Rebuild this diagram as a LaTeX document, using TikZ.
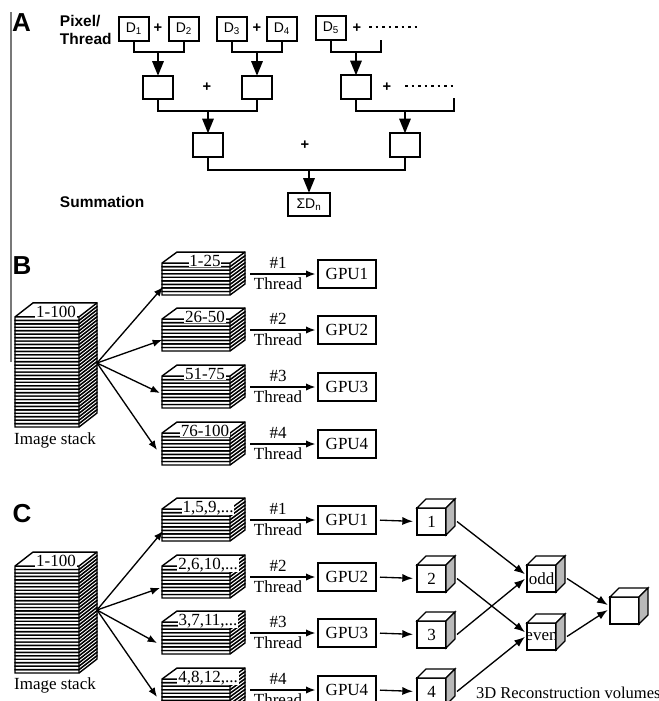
\documentclass[tikz,border=0pt]{standalone}
\usepackage{fontspec}
\setmainfont{Liberation Serif}
\newfontfamily\sansfam{Liberation Sans}
\usetikzlibrary{arrows.meta}

\definecolor{rulegray}{RGB}{120,120,120}
\definecolor{cubeside}{RGB}{185,185,185}

% A stack of sheets: #1 left x, #2 front right x, #3 bottom y, #4 sheets,
% #5 sheet thickness, #6 depth shift to the right, #7 depth rise
\newcommand\imgstack[7]{%
  \foreach \i in {1,...,#4}{%
    \pgfmathsetmacro\yb{#3-(\i-1)*#5}%
    \pgfmathsetmacro\yt{#3-\i*#5}%
    \pgfmathsetmacro\ybr{\yb-#7}%
    \pgfmathsetmacro\ytr{\yt-#7}%
    \pgfmathsetmacro\xr{#2+#6}%
    \pgfmathsetmacro\xl{#1+#6}%
    \filldraw[sheet] (#1,\yb) -- (#2,\yb) -- (\xr,\ybr) -- (\xr,\ytr) -- (\xl,\ytr) -- (#1,\yt) -- cycle;
    \draw[sheet,fill=none] (#1,\yt) -- (#2,\yt) -- (\xr,\ytr) (#2,\yt) -- (#2,\yb);
  }}

% top and side faces of a volume cube drawn round its front node
\newcommand\cubefaces[1]{%
  \draw[cubeline, fill=white] (#1.north west) -- ++(9,-9) -- ([shift={(9,-9)}]#1.north east) -- (#1.north east) -- cycle;
  \draw[cubeline, fill=cubeside] (#1.north east) -- ++(9,-9) -- ([shift={(9,-9)}]#1.south east) -- (#1.south east) -- cycle;}

\tikzset{
  every node/.style={inner sep=0pt, outer sep=0pt},
  panellbl/.style={font=\sansfam\bfseries\fontsize{19.5}{20}\selectfont},
  sanslbl/.style={font=\sansfam\bfseries\fontsize{11.6}{13.5}\selectfont, align=left},
  tree/.style={line width=1.5pt, line join=miter},
  treearrow/.style={line width=1.5pt, -{Triangle[length=11pt,width=8.5pt]}},
  abox/.style={draw, line width=1.5pt, minimum width=22.5pt, minimum height=17.5pt,
    font=\sansfam\fontsize{10.5}{12}\selectfont},
  sumbox/.style={abox, minimum width=31.5pt},
  plus/.style={font=\sansfam\bfseries\fontsize{11}{12}\selectfont},
  dotrow/.style={line width=1.9pt, dash pattern=on 1.9pt off 3pt},
  sheet/.style={line width=1.05pt, fill=white, draw=black, line join=miter},
  serif/.style={font=\fontsize{12.75}{14}\selectfont},
  stacklbl/.style={serif, anchor=base},
  toplbl/.style={stacklbl, fill=white, inner xsep=0.6pt, inner ysep=0.4pt},
  gpubox/.style={draw, line width=1.1pt, minimum width=43.5pt, minimum height=21pt, serif},
  fan/.style={line width=1pt, -{Latex[length=7pt,width=5.5pt]}},
  thread/.style={line width=1pt, -{Latex[length=7pt,width=5.5pt]}, shorten >=2pt},
  gpuarrow/.style={line width=1pt, -{Latex[length=8pt,width=6pt]}, shorten <=3pt, shorten >=3pt},
  volarrow/.style={line width=1pt, -{Latex[length=8pt,width=6pt]}, shorten >=2pt},
  cubeline/.style={line width=1pt, line join=miter},
  cube/.style={draw, fill=white, line width=1pt, minimum width=21.75pt, minimum height=20.25pt, serif},
}

\begin{document}
\begin{tikzpicture}[x=0.75pt,y=-0.75pt]
\useasboundingbox (0,0) rectangle (659,701);
\clip (0,0) rectangle (659,701);

% margin rule
\coordinate (ruleT) at (11,12);
\coordinate (ruleB) at (11,362);
\draw[rulegray, line width=0.9pt] (ruleT) -- (ruleB);

% panel letters
\node[panellbl] (letA) at (21.5,23) {A};
\node[panellbl] (letB) at (22,266) {B};
\node[panellbl] (letC) at (22,514) {C};

% ---------------- A: pairwise summation tree ----------------
\node[sanslbl, anchor=west] (pixlbl) at (60,30) {Pixel/\\Thread};
\node[sanslbl, anchor=west] (sumlbl) at (60,202) {Summation};

\node[abox] (d1) at (134,29) {D\textsubscript{1}};
\node[abox] (d2) at (184,29) {D\textsubscript{2}};
\node[abox] (d3) at (232,29) {D\textsubscript{3}};
\node[abox] (d4) at (282,29) {D\textsubscript{4}};
\node[abox] (d5) at (331,28) {D\textsubscript{5}};
\node[plus] (p12) at (158,28) {+};
\node[plus] (p34) at (257,28) {+};
\node[plus] (p5) at (357,28) {+};
\coordinate (dotsAa) at (369,27);
\coordinate (dotsAb) at (418,27);
\draw[dotrow] (dotsAa) -- (dotsAb);

\node[abox] (s1) at (158,87.5) {};
\node[abox] (s2) at (257,87.5) {};
\node[abox] (s3) at (356,87) {};
\node[plus] (ps12) at (207,87) {+};
\node[plus] (ps3) at (387,87) {+};
\coordinate (dotsBa) at (405,86);
\coordinate (dotsBb) at (454,86);
\draw[dotrow] (dotsBa) -- (dotsBb);

\node[abox] (t1) at (208,145) {};
\node[abox] (t2) at (405,145) {};
\node[plus] (pt) at (305,145) {+};

\node[sumbox] (sum) at (309,204.5) {ΣD\textsubscript{n}};

\coordinate (j1) at (0,52);
\coordinate (j2) at (0,111);
\coordinate (j3) at (0,170);
\coordinate (d5open) at (381,40);
\coordinate (s3open) at (454,98);

\draw[tree] (d1.south) |- (s1 |- j1) -| (d2.south);
\draw[tree] (d3.south) |- (s2 |- j1) -| (d4.south);
\draw[tree] (d5.south) |- (s3 |- j1) -| (d5open);
\draw[treearrow] (s1 |- j1) -- (s1.north);
\draw[treearrow] (s2 |- j1) -- (s2.north);
\draw[treearrow] (s3 |- j1) -- (s3.north);

\draw[tree] (s1.south) |- (t1 |- j2) -| (s2.south);
\draw[tree] (s3.south) |- (t2 |- j2) -| (s3open);
\draw[treearrow] (t1 |- j2) -- (t1.north);
\draw[treearrow] (t2 |- j2) -- (t2.north);

\draw[tree] (t1.south) |- (sum |- j3) -| (t2.south);
\draw[treearrow] (sum |- j3) -- (sum.north);

% ---------------- B: block split over four GPUs ----------------
\imgstack{15}{79}{427}{32}{3.44}{18}{14}
\node[toplbl] (allB) at (56,317) {1-100};
\node[stacklbl] (imgB) at (55,444) {Image stack};
\coordinate (fanB) at (97,363);
\foreach \r/\lab/\tx/\ty [count=\k] in {274/1-25/163/287, 330/26-50/162/340, 387/51-75/160/393, 444/76-100/157/450}{
  \imgstack{162}{230}{\r+21}{9}{3.55}{15}{11}
  \node[toplbl] (lblB\k) at (205,\r-8) {\lab};
  \coordinate (tipB\k) at (\tx,\ty);
  \draw[fan] (fanB) -- (tipB\k);
  \coordinate (thrB\k) at (250,\r);
  \node[gpubox] (gpuB\k) at (347,\r) {GPU\k};
  \draw[thread] (thrB\k) -- (gpuB\k.west);
  \node[serif] (numB\k) at (278,\r-11) {\#\k};
  \node[serif] (thB\k) at (278,\r+10) {Thread};
}

% ---------------- C: interleaved split and volume merge ----------------
\imgstack{15}{79}{673}{31}{3.45}{18}{14}
\node[toplbl] (allC) at (56,566) {1-100};
\node[stacklbl] (imgC) at (55,689) {Image stack};
\coordinate (fanC) at (97,610);
\foreach \r/\lab/\tx/\ty [count=\k] in {520/{1,5,9,...}/163/531, 577/{2,6,10,...}/160/588, 633/{3,7,11,...}/157/643, 690/{4,8,12,...}/157/697}{
  \imgstack{162}{230}{\r+21}{9}{3.55}{15}{11}
  \node[toplbl] (lblC\k) at (208,\r-8) {\lab};
  \coordinate (tipC\k) at (\tx,\ty);
  \draw[fan] (fanC) -- (tipC\k);
  \coordinate (thrC\k) at (250,\r);
  \node[gpubox] (gpuC\k) at (347,\r) {GPU\k};
  \draw[thread] (thrC\k) -- (gpuC\k.west);
  \node[serif] (numC\k) at (278,\r-11) {\#\k};
  \node[serif] (thC\k) at (278,\r+10) {Thread};
  \node[cube] (vol\k) at (431.5,\r+1.5) {\k};
  \cubefaces{vol\k}
  \draw[gpuarrow] (gpuC\k.east) -- (vol\k.west);
}

\node[cube] (odd) at (541.5,578.5) {\makebox[0pt]{odd}};
\cubefaces{odd}
\node[cube] (even) at (541.5,636.5) {\makebox[0pt]{even}};
\cubefaces{even}
\node[cube] (final) at (624.5,610.5) {};
\cubefaces{final}

\draw[volarrow] ([xshift=8.25pt]vol1.east) -- ([yshift=2pt]odd.west);
\draw[volarrow] ([xshift=8.25pt]vol3.east) -- ([yshift=1pt]odd.west);
\draw[volarrow] ([xshift=8.25pt]vol2.east) -- ([yshift=2pt]even.west);
\draw[volarrow] ([xshift=8.25pt]vol4.east) -- ([yshift=1pt]even.west);
\draw[volarrow] ([xshift=8.25pt]odd.east) -- ([yshift=3pt]final.west);
\draw[volarrow] ([xshift=8.25pt]even.east) -- ([yshift=1.5pt]final.west);

\node[serif, anchor=base west, font=\fontsize{12.4}{14}\selectfont] (reclbl) at (476,698) {3D Reconstruction volumes};
\end{tikzpicture}
\end{document}
